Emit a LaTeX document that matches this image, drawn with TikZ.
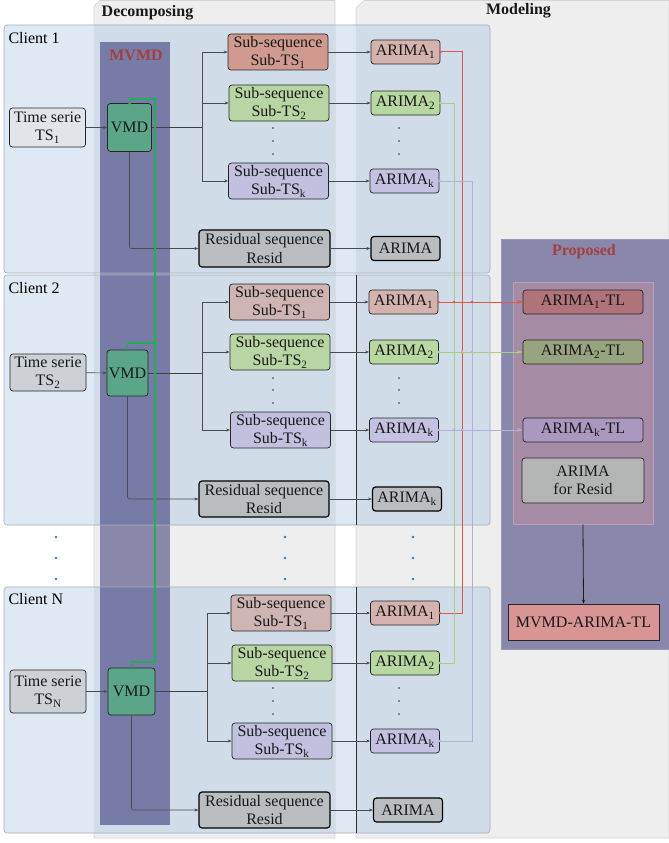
\documentclass[tikz,border=0pt]{standalone}
\usepackage{fontspec}
\setmainfont{Liberation Serif}
\usetikzlibrary{arrows.meta}

\newcommand\diagfont{\fontsize{16}{18.5}\selectfont}

\definecolor{panelgray}{HTML}{EEEEEE}
\definecolor{panelline}{HTML}{D2D4D6}
\definecolor{clientbase}{HTML}{DFE9F3}
\definecolor{clienttint}{HTML}{D0DDE8}
\definecolor{clientline}{HTML}{A4AEB8}
\definecolor{mvmdout}{HTML}{8A88AB}
\definecolor{mvmdin}{HTML}{777CA6}
\definecolor{titlered}{HTML}{A5403C}
\definecolor{vmdgreen}{HTML}{5BA689}
\definecolor{tsgray}{HTML}{E1E5E9}
\definecolor{tsgray2}{HTML}{CDD1D5}
\definecolor{subred}{HTML}{D09A8F}
\definecolor{subpink}{HTML}{CEB4B3}
\definecolor{subgreen}{HTML}{B8D6A3}
\definecolor{subpurple}{HTML}{C1C0DF}
\definecolor{resgray}{HTML}{B9BDC0}
\definecolor{arpink}{HTML}{D4B3AF}
\definecolor{argreen}{HTML}{B7D8A0}
\definecolor{arpurple}{HTML}{C4C1E2}
\definecolor{propbg}{HTML}{8987AB}
\definecolor{propinner}{HTML}{A68BA4}
\definecolor{tlred}{HTML}{B07379}
\definecolor{tlgreen}{HTML}{98A37F}
\definecolor{tlpurple}{HTML}{AA98C0}
\definecolor{tlgray}{HTML}{B3B5B5}
\definecolor{finalred}{HTML}{D99594}
\definecolor{linered}{HTML}{E0574B}
\definecolor{linegreen}{HTML}{A8CF80}
\definecolor{linepurple}{HTML}{B6AEDA}
\definecolor{mvmdline}{HTML}{22AE55}
\definecolor{dotblue}{HTML}{2F7AC2}

\begin{document}
\begin{tikzpicture}[x=1pt, y=-1pt, font=\diagfont,
  sz/.style 2 args={minimum width=#1pt, minimum height=#2pt},
  blk/.style={draw=black!85, line width=0.7pt, rounded corners=3pt, inner sep=1pt,
              align=center, text=black!90},
  tsbox/.style={blk, sz={76}{39}},
  vmdbox/.style={blk, fill=vmdgreen, sz={44}{48}},
  subbox/.style={blk, sz={100}{36}},
  resbox/.style={blk, fill=resgray, draw=black, line width=1.2pt, sz={131}{37}},
  arbox/.style={blk, sz={69}{24}},
  argray/.style={arbox, fill=resgray, draw=black, line width=1.2pt},
  tlbox/.style={blk, sz={120}{24}},
  conn/.style={draw=black!70, line width=0.6pt, -{Stealth[length=4pt,width=3pt]}},
  trunk/.style={draw=black!75, line width=0.8pt},
  redl/.style={draw=linered, line width=1pt},
  greenl/.style={draw=linegreen, line width=1pt},
  purpl/.style={draw=linepurple, line width=1pt},
  mvmdl/.style={draw=mvmdline, line width=1.4pt},
  ttl/.style={font=\bfseries\diagfont, text=black!90},
  redttl/.style={font=\bfseries\diagfont, text=titlered},
]
\useasboundingbox (0,0) rectangle (669,843);

% stage panels
\draw[fill=panelgray, draw=panelline, line width=0.6pt]
  (94,6) -- (100,0.5) -- (335,0.5) -- (335,838) -- (94,838) -- cycle;
\draw[fill=panelgray, draw=panelline, line width=0.6pt]
  (356,8) -- (364,0.5) -- (669,0.5) -- (669,838) -- (356,838) -- cycle;
\node[ttl] (tdec) at (147.5,13) {Decomposing};
\node[ttl] (tmod) at (518.5,11) {Modeling};

% client areas
\fill[clientbase, rounded corners=3pt] (4,25) rectangle (490,273);
\fill[clientbase, rounded corners=3pt] (4,275) rectangle (490,525);
\fill[clientbase, rounded corners=3pt] (4,587) rectangle (490,833);

% MVMD band
\fill[mvmdout] (100,42) rectangle (170,825);
\begin{scope}
  \clip[rounded corners=3pt] (4,25) rectangle (490,273)
        (4,275) rectangle (490,525) (4,587) rectangle (490,833);
  \fill[clienttint] (94,0) rectangle (335,843);
  \fill[clienttint] (356,0) rectangle (669,843);
  \fill[mvmdin] (100,42) rectangle (170,825);
  \draw[panelline!80!white, line width=0.6pt] (335,0) -- (335,843);
\end{scope}
\draw[clientline, line width=0.6pt, rounded corners=3pt] (4,25) rectangle (490,273);
\draw[clientline, line width=0.6pt, rounded corners=3pt] (4,275) rectangle (490,525);
\draw[clientline, line width=0.6pt, rounded corners=3pt] (4,587) rectangle (490,833);
\draw[black!80, line width=0.6pt] (356,275) -- (356,525);
\draw[black!80, line width=0.6pt] (356,587) -- (356,833);

\node[anchor=west] (c1) at (5,38) {Client 1};
\node[anchor=west] (c2) at (5,288) {Client 2};
\node[anchor=west] (cn) at (5,599) {Client N};
\node[redttl] (tmvmd) at (136,55) {MVMD};

% between-client dots
\foreach \xx in {56,285,413}
  \foreach \yy in {537,558,579}
    \fill[dotblue] (\xx,\yy) circle (1.3pt);

% ---------------- Client 1 ----------------
\node[tsbox, fill=tsgray] (ts1) at (47.5,127.5) {Time serie\\TS\textsubscript{1}};
\node[vmdbox] (vmd1) at (129.5,127.5) {VMD};
\node[subbox, fill=subred] (s11) at (278,52) {Sub-sequence\\Sub-TS\textsubscript{1}};
\node[subbox, fill=subgreen] (s12) at (279,103) {Sub-sequence\\Sub-TS\textsubscript{2}};
\node[subbox, fill=subpurple] (s1k) at (278.5,181) {Sub-sequence\\Sub-TS\textsubscript{k}};
\node[resbox] (r1) at (264.5,248.5) {Residual sequence\\Resid};
\node[arbox, fill=arpink] (a11) at (405.5,52) {ARIMA\textsubscript{1}};
\node[arbox, fill=argreen] (a12) at (405.5,103) {ARIMA\textsubscript{2}};
\node[arbox, fill=arpurple] (a1k) at (404.5,181) {ARIMA\textsubscript{k}};
\node[argray] (a1r) at (405.5,248.5) {ARIMA};
\coordinate (b1) at (202,127.5);

% ---------------- Client 2 ----------------
\node[tsbox, fill=tsgray2, sz={76}{37}] (ts2) at (48,372.5) {Time serie\\TS\textsubscript{2}};
\node[vmdbox, sz={41}{46}] (vmd2) at (127.5,373) {VMD};
\node[subbox, fill=subpink] (s21) at (279.5,302) {Sub-sequence\\Sub-TS\textsubscript{1}};
\node[subbox, fill=subgreen] (s22) at (280,352) {Sub-sequence\\Sub-TS\textsubscript{2}};
\node[subbox, fill=subpurple] (s2k) at (280.5,430) {Sub-sequence\\Sub-TS\textsubscript{k}};
\node[resbox, sz={130}{36}] (r2) at (264,499) {Residual sequence\\Resid};
\node[arbox, fill=arpink] (a21) at (403.5,302) {ARIMA\textsubscript{1}};
\node[arbox, fill=argreen] (a22) at (404,352) {ARIMA\textsubscript{2}};
\node[arbox, fill=arpurple] (a2k) at (404,430) {ARIMA\textsubscript{k}};
\node[argray] (a2r) at (407,499) {ARIMA\textsubscript{k}};
\coordinate (b2) at (202,373);

% ---------------- Client N ----------------
\node[tsbox, fill=tsgray2, sz={76}{43}] (tsn) at (48,691.5) {Time serie\\TS\textsubscript{N}};
\node[vmdbox, sz={47}{47}] (vmdn) at (131.5,691.5) {VMD};
\node[subbox, fill=subpink] (sn1) at (281,613) {Sub-sequence\\Sub-TS\textsubscript{1}};
\node[subbox, fill=subgreen] (sn2) at (282,663) {Sub-sequence\\Sub-TS\textsubscript{2}};
\node[subbox, fill=subpurple] (snk) at (282,741) {Sub-sequence\\Sub-TS\textsubscript{k}};
\node[resbox, sz={131}{36}] (rn) at (264.5,810) {Residual sequence\\Resid};
\node[arbox, fill=arpink] (an1) at (405,613) {ARIMA\textsubscript{1}};
\node[arbox, fill=argreen] (an2) at (405,663) {ARIMA\textsubscript{2}};
\node[arbox, fill=arpurple] (ank) at (405,741) {ARIMA\textsubscript{k}};
\node[argray] (anr) at (408,810) {ARIMA};
\coordinate (bn) at (207,691.5);

% vertical ellipses inside the clients
\foreach \yy in {128,141,154,378,390,403,688,701,714} {
  \fill[black!80] (273,\yy) circle (0.9pt);
  \fill[black!80] (399,\yy) circle (0.9pt);
}

% decomposition connectors
\foreach \c/\s in {1/1,2/2,n/n} {
  \draw[conn] (ts\c) -- (vmd\c);
  \draw[trunk] (vmd\c.east) -- (b\c);
  \draw[conn] (b\c) |- (s\s1.west);
  \draw[conn] (b\c) |- (s\s2.west);
  \draw[conn] (b\c) |- (s\s k.west);
  \draw[conn, rounded corners=2pt] (vmd\c.south) |- (r\c.west);
  \draw[conn] (s\s1) -- (a\s1);
  \draw[conn] (s\s2) -- (a\s2);
  \draw[conn] (s\s k) -- (a\s k);
  \draw[conn] (r\c) -- (a\s r);
}

% shared MVMD link between the VMD blocks
\coordinate (g1) at (155,99);
\coordinate (g2) at (155,343);
\coordinate (gn) at (155,662);
\draw[mvmdl, -{Stealth[length=3pt,width=3pt]}] (vmd1.north) |- (g1) -- (gn) -| (vmdn.north);
\draw[mvmdl, -{Stealth[length=3pt,width=3pt]}] (g2) -| (vmd2.north);
\fill[mvmdline] (vmd1.north) circle (1.6pt);

% Proposed stage
\node[fill=propbg, draw=propbg!85!white, line width=0.6pt, sz={168}{410}] (prop) at (585,444) {};
\node[redttl] (tprop) at (584,252) {Proposed};
\node[fill=propinner, draw=propinner!80!white, line width=0.6pt, sz={140}{242}] (pin) at (583,403) {};
\node[tlbox, fill=tlred] (tl1) at (583,302) {ARIMA\textsubscript{1}-TL};
\node[tlbox, fill=tlgreen] (tl2) at (583,352) {ARIMA\textsubscript{2}-TL};
\node[tlbox, fill=tlpurple] (tlk) at (583,430) {ARIMA\textsubscript{k}-TL};
\node[blk, fill=tlgray, sz={122}{45}] (tlr) at (583,480.5) {ARIMA\\for Resid};
\node[blk, rounded corners=0pt, fill=finalred, sz={151}{36}] (final) at (583.5,622) {MVMD-ARIMA-TL};
\draw[conn, draw=black!90, line width=0.8pt] (pin.south) -- (final.north);

% transfer links from the ARIMA models
\coordinate (rr) at (462,52);
\coordinate (gg) at (454,103);
\coordinate (pp) at (472,181);
\draw[redl] (a11.east) -- (rr) |- (an1.east);
\draw[greenl] (a12.east) -- (gg) |- (an2.east);
\draw[purpl] (a1k.east) -- (pp) |- (ank.east);
\draw[redl, -{Stealth[length=6pt,width=4pt]}] (a21.east) -- (tl1.west);
\draw[greenl, -{Stealth[length=6pt,width=4pt]}] (a22.east) -- (tl2.west);
\draw[purpl, -{Stealth[length=6pt,width=4pt]}] (a2k.east) -- (tlk.west);
\foreach \n/\cl in {a11/linered,a21/linered,an1/linered,a12/linegreen,a22/linegreen,an2/linegreen,a1k/linepurple,a2k/linepurple,ank/linepurple}
  \fill[\cl] (\n.east) circle (1.4pt);
\foreach \xx in {454,472} \fill[linered] (\xx,302) circle (1.3pt);
\foreach \xx in {462,472} \fill[linegreen] (\xx,352) circle (1.3pt);
\foreach \xx in {454,462} \fill[linepurple] (\xx,430) circle (1.3pt);
\end{tikzpicture}
\end{document}
